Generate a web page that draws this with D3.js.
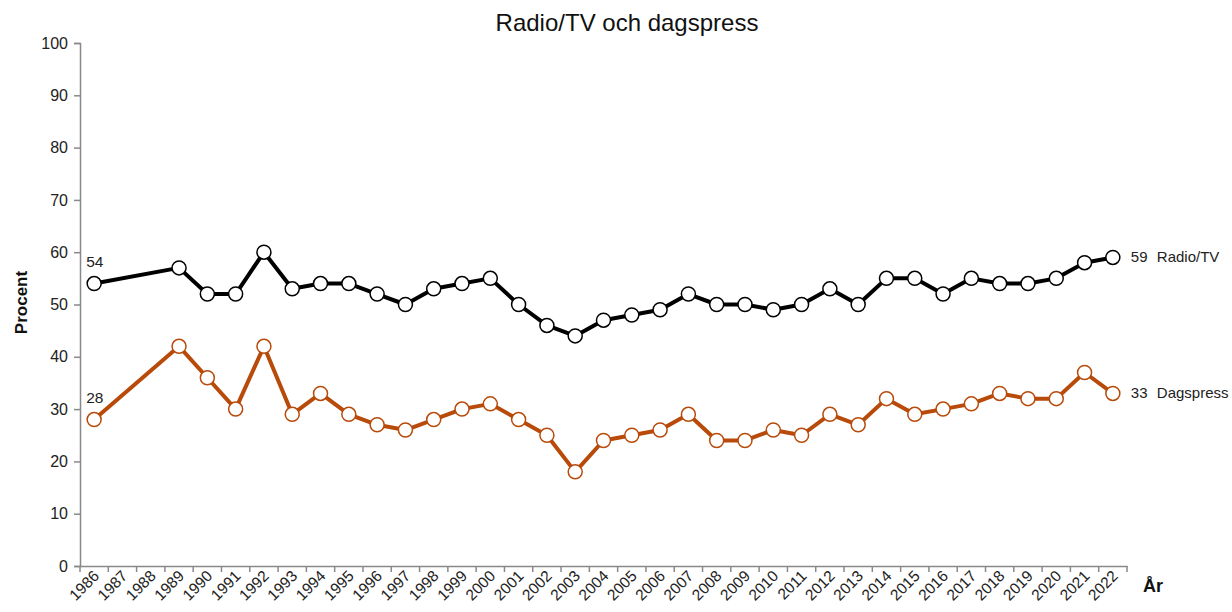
<!DOCTYPE html>
<html>
<head>
<meta charset="utf-8">
<script src="https://cdn.jsdelivr.net/npm/d3@7"></script>
<style>
  body { margin: 0; background: #fff; }
  svg { font-family: "Liberation Sans", Arial, sans-serif; }
</style>
</head>
<body>
<div id="chart"></div>
<script>
const width = 1232;
const height = 612;
const margin = { top: 43, right: 105, bottom: 46, left: 80 };

const years = d3.range(1986, 2023).map(String);
const radioYears = ["1986","1989","1990","1991","1992","1993","1994","1995","1996","1997","1998","1999","2000","2001","2002","2003","2004","2005","2006","2007","2008","2009","2010","2011","2012","2013","2014","2015","2016","2017","2018","2019","2020","2021","2022"];
const radioTV = [54,57,52,52,60,53,54,54,52,50,53,54,55,50,46,44,47,48,49,52,50,50,49,50,53,50,55,55,52,55,54,54,55,58,59];
const dagspress = [28,42,36,30,42,29,33,29,27,26,28,30,31,28,25,18,24,25,26,29,24,24,26,25,29,27,32,29,30,31,33,32,32,37,33];
const yTicks = [0,10,20,30,40,50,60,70,80,90,100];

const series = [
    { name: "Radio/TV", values: radioTV, color: "#000000" },
    { name: "Dagspress", values: dagspress, color: "#b84a0a" }
];

const svg = d3.select("#chart")
    .append("svg")
    .attr("width", width)
    .attr("height", height);

const innerW = width - margin.left - margin.right;
const innerH = height - margin.top - margin.bottom;

const g = svg.append("g")
    .attr("transform", `translate(${margin.left},${margin.top})`);

const xScale = d3.scaleBand()
    .domain(years)
    .range([0, innerW]);

const yScale = d3.scaleLinear()
    .domain([0, 100])
    .range([innerH, 0]);

// y axis
const yAxis = g.append("g")
    .call(d3.axisLeft(yScale).tickValues(yTicks).tickSize(6).tickPadding(6));
yAxis.select(".domain").attr("stroke", "#898989").attr("stroke-width", 1.5);
yAxis.selectAll(".tick line").attr("stroke", "#898989").attr("stroke-width", 1.5);
yAxis.selectAll(".tick text")
    .attr("font-size", 16)
    .attr("fill", "#222")
    .attr("font-family", "Liberation Sans, Arial, sans-serif");

// x axis, ticks between the years
const xAxis = g.append("g")
    .attr("transform", `translate(0,${innerH})`)
    .call(d3.axisBottom(xScale).tickSize(0).tickFormat(""));
xAxis.select(".domain").attr("stroke", "#898989").attr("stroke-width", 1.5);

g.selectAll(".x-tick")
    .data(years.concat(["end"]))
    .enter().append("line")
    .attr("class", "x-tick")
    .attr("x1", (d, i) => i * xScale.step())
    .attr("x2", (d, i) => i * xScale.step())
    .attr("y1", innerH)
    .attr("y2", innerH + 6)
    .attr("stroke", "#898989")
    .attr("stroke-width", 1.5);

g.selectAll(".x-label")
    .data(years)
    .enter().append("text")
    .attr("class", "x-label")
    .attr("transform", d => `translate(${xScale(d) + xScale.bandwidth() / 2 + 6},${innerH + 11}) rotate(-45)`)
    .attr("text-anchor", "end")
    .attr("font-size", 15.5)
    .attr("fill", "#222")
    .text(d => d);

// lines and markers
const line = d3.line()
    .x((d, i) => xScale(radioYears[i]) + xScale.bandwidth() / 2)
    .y(d => yScale(d));

series.forEach(s => {
    g.append("path")
        .datum(s.values)
        .attr("fill", "none")
        .attr("stroke", s.color)
        .attr("stroke-width", 4)
        .attr("stroke-linejoin", "round")
        .attr("d", line);

    g.selectAll(null)
        .data(s.values)
        .enter().append("circle")
        .attr("cx", (d, i) => xScale(radioYears[i]) + xScale.bandwidth() / 2)
        .attr("cy", d => yScale(d))
        .attr("r", 7)
        .attr("fill", "white")
        .attr("stroke", s.color)
        .attr("stroke-width", 1.5);

    const first = s.values[0];
    const last = s.values[s.values.length - 1];
    const x0 = xScale(radioYears[0]) + xScale.bandwidth() / 2;
    const xN = xScale(radioYears[radioYears.length - 1]) + xScale.bandwidth() / 2;

    g.append("text")
        .attr("x", x0 - 8)
        .attr("y", yScale(first) - 17)
        .attr("font-size", 15.5)
        .attr("fill", "#222")
        .text(first);

    g.append("text")
        .attr("x", xN + 18)
        .attr("y", yScale(last) + 5)
        .attr("font-size", 15)
        .attr("fill", "#222")
        .text(last);

    g.append("text")
        .attr("x", xN + 44)
        .attr("y", yScale(last) + 5)
        .attr("font-size", 15)
        .attr("fill", "#222")
        .text(s.name);
});

// titles
svg.append("text")
    .attr("x", 627)
    .attr("y", 31)
    .attr("text-anchor", "middle")
    .attr("font-size", 24)
    .attr("fill", "#111")
    .text("Radio/TV och dagspress");

svg.append("text")
    .attr("transform", `translate(27,${margin.top + innerH / 2 - 2}) rotate(-90)`)
    .attr("text-anchor", "middle")
    .attr("font-size", 17)
    .attr("font-weight", "bold")
    .attr("fill", "#111")
    .text("Procent");

svg.append("text")
    .attr("x", 1143)
    .attr("y", 592)
    .attr("font-size", 18)
    .attr("font-weight", "bold")
    .attr("fill", "#111")
    .text("År");
</script>
</body>
</html>
